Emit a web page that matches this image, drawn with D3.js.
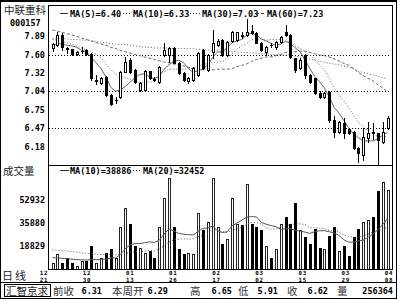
<!DOCTYPE html>
<html><head><meta charset="utf-8">
<script src="https://cdn.jsdelivr.net/npm/d3@7"></script>
<style>html,body{margin:0;padding:0;background:#fff}svg{display:block}</style>
</head><body><svg id="c" width="400" height="300"></svg>
<script>
// ---------------- data ----------------
const stockName = "中联重科";
const stockCode = "000157";
const opens  = [7.71,7.75,7.91,7.71,7.69,7.615,7.66,7.677,7.62,7.20, 7.17,7.26,6.98,6.90,6.95,7.34,7.52,7.37,7.06,7.06, 7.35,7.23,7.18,7.60,7.60,7.71,7.48,7.32,7.19,7.22, 7.29,7.68,7.37,7.65,7.76,7.83,7.60,7.82,7.83,7.91, 7.91,7.97,7.94,7.79,7.65,7.76,7.72,7.80,7.96,7.91, 7.55,7.40,7.60,7.29,7.24,7.01,6.95,7.03,6.59,6.41, 6.55,6.45,6.41,6.16,6.05,6.32,6.41,6.39,6.26,6.47];
const highs  = [7.79,7.96,7.94,7.72,7.70,7.66,7.72,7.69,7.63,7.29, 7.26,7.27,6.99,6.95,7.36,7.57,7.55,7.38,7.18,7.37, 7.36,7.26,7.43,7.79,7.72,7.72,7.49,7.33,7.26,7.42, 7.65,7.70,7.62,7.99,7.84,7.85,7.82,7.97,7.96,7.95, 8.16,8.06,7.95,7.80,7.74,7.78,7.82,7.90,8.06,7.92, 7.56,7.55,7.62,7.30,7.25,7.04,7.03,7.04,6.66,6.58, 6.62,6.47,6.42,6.17,6.47,6.56,6.55,6.40,6.57,6.65];
const lows   = [7.66,7.74,7.68,7.63,7.60,7.60,7.63,7.60,7.22,7.15, 7.15,6.97,6.82,6.85,6.93,7.33,7.32,7.16,7.04,7.04, 7.23,7.19,7.17,7.58,7.49,7.47,7.31,7.20,7.17,7.20, 7.27,7.38,7.35,7.55,7.74,7.58,7.59,7.80,7.82,7.87, 7.89,7.93,7.78,7.66,7.60,7.72,7.70,7.79,7.90,7.55, 7.33,7.38,7.25,7.17,6.99,6.93,6.93,6.57,6.33,6.39, 6.31,6.38,6.14,5.95,5.98,6.26,6.30,5.91,6.24,6.45];
const closes = [7.77,7.91,7.72,7.69,7.615,7.646,7.665,7.615,7.24,7.21, 7.24,6.98,6.84,6.91,7.34,7.49,7.34,7.18,7.17,7.35, 7.24,7.22,7.41,7.68,7.71,7.48,7.32,7.21,7.24,7.40, 7.63,7.40,7.60,7.79,7.82,7.60,7.80,7.95,7.95,7.90, 7.96,7.94,7.79,7.68,7.72,7.75,7.80,7.88,7.91,7.57, 7.37,7.52,7.29,7.18,7.01,6.95,7.01,6.59,6.41,6.56, 6.39,6.40,6.16,6.08,6.33,6.39,6.40,6.28,6.41,6.62];
const volumes = [6200,12200,6200,9900,5500,4000,7000,7700,18800,5500, 9200,12900,15900,9200,32200,47000,34400,18100,17300,12900, 15100,9200,32900,54400,69200,32200,16600,12200,12900,12200, 42600,30000,35900,69200,32200,20300,24000,54400,34400,33700, 64100,35100,32200,30000,18100,9900,15900,34400,39600,34400, 50700,30000,24800,20300,30700,17300,15900,26200,32200,15100, 18800,11400,24800,30700,35900,38100,39600,59000,66000,60000];
const ma5  = [7.74,7.78,7.77,7.75,7.74,7.72,7.67,7.65,7.56,7.48, 7.39,7.26,7.10,7.04,7.06,7.11,7.18,7.25,7.30,7.31, 7.26,7.23,7.28,7.38,7.45,7.50,7.52,7.48,7.39,7.33, 7.36,7.38,7.45,7.56,7.65,7.64,7.72,7.79,7.82,7.84, 7.91,7.94,7.91,7.85,7.82,7.78,7.75,7.77,7.81,7.78, 7.71,7.65,7.53,7.39,7.27,7.19,7.09,6.95,6.79,6.70, 6.59,6.47,6.38,6.32,6.27,6.27,6.27,6.30,6.36,6.40];
const ma10 = [7.84,7.83,7.81,7.79,7.77,7.74,7.71,7.68,7.65,7.61, 7.56,7.46,7.37,7.30,7.27,7.25,7.22,7.18,7.17,7.18, 7.18,7.21,7.27,7.34,7.38,7.38,7.38,7.38,7.39,7.39, 7.43,7.45,7.47,7.48,7.49,7.50,7.55,7.62,7.69,7.74, 7.78,7.83,7.85,7.84,7.83,7.84,7.84,7.84,7.83,7.80, 7.74,7.70,7.65,7.60,7.53,7.45,7.37,7.24,7.09,6.99, 6.89,6.78,6.67,6.56,6.49,6.43,6.37,6.34,6.34,6.33];
const ma30 = [7.99,7.97,7.95,7.93,7.91,7.89,7.86,7.84,7.82,7.79, 7.77,7.75,7.72,7.70,7.67,7.65,7.63,7.61,7.59,7.57, 7.55,7.53,7.51,7.49,7.48,7.46,7.45,7.43,7.41,7.39, 7.39,7.37,7.37,7.37,7.38,7.38,7.38,7.39,7.42,7.44, 7.46,7.50,7.53,7.55,7.57,7.57,7.59,7.61,7.64,7.65, 7.65,7.66,7.66,7.64,7.62,7.60,7.59,7.57,7.54,7.51, 7.47,7.44,7.39,7.33,7.28,7.24,7.20,7.14,7.09,7.03];
const ma60 = [7.86,7.86,7.85,7.85,7.84,7.84,7.83,7.83,7.82,7.81, 7.80,7.79,7.78,7.77,7.76,7.76,7.75,7.74,7.73,7.72, 7.72,7.71,7.71,7.71,7.71,7.70,7.70,7.70,7.70,7.70, 7.69,7.68,7.68,7.67,7.67,7.66,7.66,7.65,7.65,7.64, 7.64,7.63,7.63,7.62,7.62,7.61,7.61,7.60,7.60,7.60, 7.58,7.57,7.55,7.54,7.52,7.50,7.49,7.47,7.46,7.45, 7.43,7.41,7.38,7.35,7.33,7.31,7.29,7.27,7.25,7.23];
const volMa10 = [9800,9600,9300,9000,8700,8400,8200,8100,8400,8300, 8600,8700,9600,9600,12200,16500,19300,20300,20200,20900, 21500,21100,22800,27400,31100,29600,27800,27200,26800,26700, 29400,31500,31800,33300,29600,28400,29100,33400,35500,37700, 39800,40300,40000,36000,34600,33600,32800,30800,31300,31400, 30000,29500,28800,27800,29100,29800,29800,29000,28200,26300, 23100,21300,21300,22300,22800,24900,27300,30500,34200,38886];
const volMa20 = [15500,15300,15000,14700,14300,13900,13400,13000,12700,12400, 12200,12000,12000,11900,12300,13000,13700,14100,14400,14600, 15100,14900,16200,18500,21600,23100,23500,23800,23500,23800, 25500,26300,27300,30300,30300,29000,28500,30300,31100,32200, 34600,35900,35900,34700,32100,31000,31000,32100,33400,34500, 34900,34900,34400,31900,31800,31700,31300,29900,29800,28800, 26600,25400,25000,25100,25900,27400,28500,29700,31000,32452];
const priceTicks = [7.89,7.60,7.32,7.04,6.75,6.47,6.18];
const priceGrid  = [7.60,7.04,6.47];
const volTicks   = [52932,35880,18829];
const dateLabels = [["12","21"],["12","30"],["01","13"],["01","26"],["02","17"],["03","02"],["03","15"],["03","29"],["04","08"]];
const priceLegend = [["solid","MA(5)=6.40"],["dot","MA(10)=6.33"],["dot","MA(30)=7.03"],["dash","MA(60)=7.23"]];
const volLegend   = [["solid","MA(10)=38886"],["dot","MA(20)=32452"]];
const footerItems = [["前收","6.31"],["本周开","6.29"],["高","6.65"],["低","5.91"],["收","6.62"],["量","256364"]];

// ---------------- layout ----------------
const W = 400, H = 300;
const L = 48, R = 392.5, T = 5.5, MID = 165.5, B = 269.5;
const MONO = "'DejaVu Sans Mono', 'Liberation Mono', monospace";
const CJK = "'Noto Sans CJK SC', 'Noto Sans', sans-serif";
const svg = d3.select("#c");
const n = closes.length;
const x = d3.scaleLinear().domain([0, n - 1]).range([52.5, 387.5]);
const yP = d3.scaleLinear().domain([6.47, 7.60]).range([128, 55]);
const yV = d3.scaleLinear().domain([18829, 52932]).range([245.5, 199.5]);

const defs = svg.append("defs");
defs.append("clipPath").attr("id","cp").append("rect").attr("x",L+0.5).attr("y",T+0.5).attr("width",R-L-1).attr("height",MID-T-1);
defs.append("clipPath").attr("id","cv").append("rect").attr("x",L+0.5).attr("y",MID+0.5).attr("width",R-L-1).attr("height",B-MID-1);

svg.append("rect").attr("width",W).attr("height",H).attr("fill","#fff");

// frame
const fr = svg.append("g").attr("stroke","#000").attr("fill","none").attr("shape-rendering","crispEdges");
fr.append("rect").attr("x",0.5).attr("y",0.5).attr("width",396).attr("height",298).attr("stroke-width",1);
fr.append("line").attr("x1",0).attr("x2",397).attr("y1",1.5).attr("y2",1.5);
fr.append("line").attr("x1",L+0.5).attr("x2",L+0.5).attr("y1",T).attr("y2",B);
fr.append("line").attr("x1",L).attr("x2",R).attr("y1",T).attr("y2",T);
fr.append("line").attr("x1",R).attr("x2",R).attr("y1",T).attr("y2",B);
fr.append("line").attr("x1",L).attr("x2",R).attr("y1",MID).attr("y2",MID);
fr.append("line").attr("x1",L).attr("x2",R).attr("y1",B).attr("y2",B);
fr.append("line").attr("x1",0).attr("x2",397).attr("y1",282.5).attr("y2",282.5);
fr.append("rect").attr("x",4.5).attr("y",284.5).attr("width",46).attr("height",12);

// gridlines
svg.append("g").selectAll("line").data(priceGrid).join("line")
  .attr("x1",L+1).attr("x2",R-1)
  .attr("y1",d=>Math.round(yP(d))+0.5).attr("y2",d=>Math.round(yP(d))+0.5)
  .attr("stroke","#000").attr("stroke-dasharray","1,2").attr("shape-rendering","crispEdges");

// axis labels
const txt = (g, s, xx, yy, opt={}) => g.append("text").attr("x",xx).attr("y",yy).text(s)
  .attr("font-family",opt.ff||MONO).attr("font-size",opt.fs||8.5).attr("font-weight",opt.fw||"bold")
  .attr("text-anchor",opt.ta||"start").attr("fill",opt.fill||"#000");

const lab = svg.append("g");
priceTicks.forEach(v => txt(lab, v.toFixed(2), 45, yP(v)+3, {ta:"end"}));
volTicks.forEach(v => txt(lab, String(v), 45, yV(v)+3, {ta:"end"}));
txt(lab, stockName, 4, 14, {ff:CJK, fs:10.5, fw:"normal", fill:"#222"});
txt(lab, stockCode, 10, 25.5, {});
txt(lab, "成交量", 3, 175, {ff:CJK, fs:10.5, fw:"normal", fill:"#222"});
txt(lab, "日线", 2, 279.5, {ff:CJK, fs:11, fw:"normal", fill:"#222"}).attr("letter-spacing",2);

// date labels (two stacked lines)
const xd = d3.scalePoint().domain(dateLabels.map((d,i)=>i)).range([43.5, 388.5]);
dateLabels.forEach((d,i) => {
  txt(lab, d[0], xd(i)+0.5, 275, {fs:5.8, ta:"middle"}).attr("letter-spacing",0.8);
  txt(lab, d[1], xd(i)+0.5, 281.6, {fs:5.8, ta:"middle"}).attr("letter-spacing",0.8);
});

// legends
function legend(items, y0, starts, samples) {
  const g = svg.append("g");
  items.forEach((it,k) => {
    const [s0,s1] = samples[k];
    const ln = g.append("line").attr("x1",s0).attr("x2",s1).attr("y1",y0-3.5).attr("y2",y0-3.5)
      .attr("stroke","#333").attr("shape-rendering","crispEdges");
    if (it[0]==="dot") ln.attr("stroke-dasharray","1,2");
    if (it[0]==="dash") ln.attr("stroke-dasharray","3,2");
    txt(g, it[1], starts[k], y0, {});
  });
}
legend(priceLegend, 16.5, [70,133,202,267], [[60,68],[123,132],[190,200],[256,265]]);
legend(volLegend, 174, [70,143], [[60,69],[133,142]]);

// footer
const ft = svg.append("g");
txt(ft, "汇智京求", 6, 294.5, {ff:CJK, fs:10.5, fw:"normal", fill:"#222"});
const fLabX = [53,112,190,238,287,337], fValX = [102,168,232,278,328,393];
footerItems.forEach((d,k) => {
  txt(ft, d[0], fLabX[k], 294.5, {ff:CJK, fs:10.5, fw:"normal", fill:"#333"});
  txt(ft, d[1], fValX[k], 294, {ta:"end"});
});

// price panel
const gp = svg.append("g").attr("clip-path","url(#cp)");
const lineOf = (arr, yS) => d3.line().x((d,i)=>x(i)).y(d=>yS(d))(arr);
const maStyle = [[ma60,"1,2"],[ma30,"3,2"],[ma10,"1,2"],[ma5,null]];
maStyle.forEach(([arr,da]) => {
  const p = gp.append("path").attr("d",lineOf(arr,yP)).attr("fill","none").attr("stroke","#666").attr("stroke-width",1);
  if (da) p.attr("stroke-dasharray",da);
});
const candles = d3.range(n).map(i => ({i, o:opens[i], h:highs[i], l:lows[i], c:closes[i]}));
const cg = gp.append("g").attr("shape-rendering","crispEdges");
candles.forEach(d => {
  const cx = Math.round(x(d.i));
  const up = d.c >= d.o;
  cg.append("line").attr("x1",cx+0.5).attr("x2",cx+0.5)
    .attr("y1",Math.round(yP(d.h))).attr("y2",Math.round(yP(d.l))+1).attr("stroke","#000");
  const t = Math.round(yP(Math.max(d.o,d.c))), b = Math.round(yP(Math.min(d.o,d.c)));
  if (b - t < 1) {
    cg.append("line").attr("x1",cx-1).attr("x2",cx+2).attr("y1",t+0.5).attr("y2",t+0.5).attr("stroke","#000");
  } else {
    cg.append("rect").attr("x",cx-0.5).attr("y",t+0.5).attr("width",2).attr("height",b-t)
      .attr("fill",up?"#fff":"#000").attr("stroke","#000");
  }
});

// volume panel
const gv = svg.append("g").attr("clip-path","url(#cv)");
const vg = gv.append("g").attr("shape-rendering","crispEdges");
volumes.forEach((v,i) => {
  const cx = Math.round(x(i));
  const up = closes[i] >= opens[i];
  const t = Math.round(yV(v));
  vg.append("rect").attr("x",cx-0.5).attr("y",t+0.5).attr("width",2).attr("height",B+2-t)
    .attr("fill",up?"#fff":"#000").attr("stroke",up?"#222":"#000");
});
[[volMa20,"1,2"],[volMa10,null]].forEach(([arr,da]) => {
  const p = gv.append("path").attr("d",lineOf(arr,yV)).attr("fill","none").attr("stroke","#555").attr("stroke-width",1);
  if (da) p.attr("stroke-dasharray",da);
});
</script></body></html>
